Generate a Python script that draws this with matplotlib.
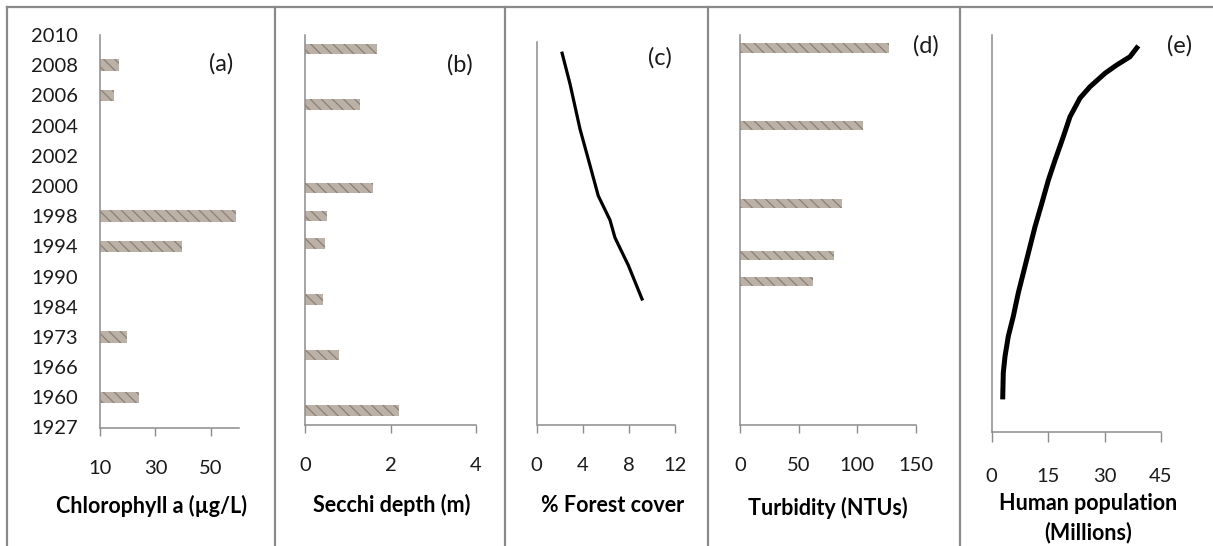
import matplotlib.pyplot as plt
from matplotlib.lines import Line2D

# --- data ---
# panel (a): year categories, top to bottom
years = ['2010', '2008', '2006', '2004', '2002', '2000', '1998',
         '1994', '1990', '1984', '1973', '1966', '1960', '1927']
chl_years = ['2008', '2006', '1998', '1994', '1973', '1960']
chl_values = [17.0, 14.9, 59.1, 39.7, 19.7, 24.2]

# panel (b): 14 unlabelled rows, top to bottom (None = no bar)
secchi = [1.68, None, 1.29, None, None, 1.58, 0.51, 0.47,
          None, 0.41, None, 0.80, None, 2.19]

# panel (c): forest cover against year
forest_year = [2009.0, 2001.3, 1990.5, 1982.5, 1974.6, 1968.8, 1964.6, 1958.0, 1949.6]
forest_cover = [2.17, 2.89, 3.76, 4.56, 5.34, 6.36, 6.79, 7.95, 9.19]

# panel (d): 15 unlabelled rows, top to bottom
turbidity = [127, None, None, 105, None, None, 87, None, 80, 62.5,
             None, None, None, None, None]

# panel (e): population (millions) against year
pop_year = [2008.8, 2006.3, 2004.4, 2002.5, 1999.4, 1996.8, 1992.5, 1987.9, 1982.5, 1977.9,
            1972.5, 1967.2, 1964.2, 1958.1, 1952.0, 1946.6, 1942.0, 1937.4, 1933.6, 1927.5]
pop_millions = [38.97, 36.76, 33.23, 30.12, 26.13, 23.47, 20.81, 19.03, 16.83, 15.05,
                13.29, 11.51, 10.63, 8.85, 7.07, 5.74, 4.41, 3.54, 3.08, 2.92]

# --- styling ---
plt.rcParams['font.family'] = ['Lato', 'DejaVu Sans']
plt.rcParams['hatch.linewidth'] = 0.9
W, H = 1213, 546
AXIS_GRAY = '#8c8c8c'
BAR_FACE = '#bcb1a6'
BAR_HATCH = '#8a8077'
TICK_FS = 14.5
LABEL_FS = 15.5
LETTER_FS = 17

fig = plt.figure(figsize=(W / 100, H / 100), dpi=100)
fig.patch.set_facecolor('white')


def make_axes(left, right, top, bottom):
    ax = fig.add_axes([left / W, 1 - bottom / H, (right - left) / W, (bottom - top) / H])
    for side in ['top', 'right']:
        ax.spines[side].set_visible(False)
    for side in ['left', 'bottom']:
        ax.spines[side].set_color(AXIS_GRAY)
        ax.spines[side].set_linewidth(1.1)
    ax.tick_params(axis='x', direction='out', length=5.5, width=1, color=AXIS_GRAY,
                   labelsize=TICK_FS, labelcolor='#1a1a1a', pad=18)
    ax.tick_params(axis='y', length=0, labelsize=TICK_FS, labelcolor='#1a1a1a')
    ax.set_facecolor('none')
    return ax


def hbars(ax, rows, values, height):
    for r, v in zip(rows, values):
        ax.barh(r, v, height=height, color=BAR_FACE, hatch='\\\\\\',
                edgecolor=BAR_HATCH, linewidth=0)


# (a) chlorophyll
ax_a = make_axes(100, 238.5, 35, 427.5)
ax_a.set_xlim(10, 60)
n = len(years)
ax_a.set_ylim(0, n - 1)
ypos = {y: n - 1 - i for i, y in enumerate(years)}
hbars(ax_a, [ypos[y] for y in chl_years], chl_values, 0.38)
ax_a.set_xticks([10, 30, 50])
ax_a.set_yticks([ypos[y] for y in years])
ax_a.set_yticklabels(years)
ax_a.tick_params(axis='y', pad=16)
ax_a.set_yticks([ypos['1998'], ypos['1927']], minor=True)
ax_a.tick_params(axis='y', which='minor', length=8, width=1, color=AXIS_GRAY, direction='out')

# (b) secchi depth
ax_b = make_axes(305, 476, 35, 424.5)
ax_b.set_xlim(0, 4)
ax_b.set_ylim(0, len(secchi))
rows = [len(secchi) - 0.5 - i for i, v in enumerate(secchi) if v is not None]
vals = [v for v in secchi if v is not None]
hbars(ax_b, rows, vals, 0.38)
ax_b.set_xticks([0, 2, 4])
ax_b.set_yticks([])

# (c) forest cover
ax_c = make_axes(536.7, 675, 42, 424.5)
ax_c.set_xlim(0, 12)
ax_c.set_ylim(1920, 2011.3)
ax_c.plot(forest_cover, forest_year, color='black', lw=2.3, solid_capstyle='butt')
ax_c.set_xticks([0, 4, 8, 12])
ax_c.set_yticks([])

# (d) turbidity
ax_d = make_axes(740, 916, 35, 424.5)
ax_d.set_xlim(0, 150)
ax_d.set_ylim(0, len(turbidity))
rows = [len(turbidity) - 0.5 - i for i, v in enumerate(turbidity) if v is not None]
vals = [v for v in turbidity if v is not None]
hbars(ax_d, rows, vals, 0.35)
ax_d.set_xticks([0, 50, 100, 150])
ax_d.set_yticks([])

# (e) human population
ax_e = make_axes(991.7, 1161, 35, 432)
ax_e.set_xlim(0, 45)
ax_e.set_ylim(1920, 2011.3)
ax_e.plot(pop_millions, pop_year, color='black', lw=3.6, solid_capstyle='butt',
          solid_joinstyle='round')
ax_e.set_xticks([0, 15, 30, 45])
ax_e.set_yticks([])
ax_e.tick_params(axis='x', length=7, pad=19)

# panel letters
for txt, x, y in [('(a)', 221, 64), ('(b)', 460, 65), ('(c)', 660, 58),
                  ('(d)', 926, 46), ('(e)', 1180, 46)]:
    fig.text(x / W, 1 - y / H, txt, fontsize=LETTER_FS, ha='center', va='center', color='#1a1a1a')

# axis titles
for txt, x, y in [('Chlorophyll a (µg/L)', 151, 506), ('Secchi depth (m)', 392, 505),
                  ('% Forest cover', 613, 505), ('Turbidity (NTUs)', 828, 508),
                  ('Human population', 1088, 503), ('(Millions)', 1088, 533)]:
    fig.text(x / W, 1 - y / H, txt, fontsize=LABEL_FS, fontweight='bold',
             ha='center', va='center', color='black')

# panel frames
frame_kw = dict(color='#8a8a8a', lw=1.6, transform=fig.transFigure)
fig.add_artist(Line2D([7 / W, 1], [1 - 7 / H, 1 - 7 / H], **frame_kw))
fig.add_artist(Line2D([7 / W, 7 / W], [0, 1 - 7 / H], **frame_kw))
for xd in [275, 505, 708, 960]:
    fig.add_artist(Line2D([xd / W, xd / W], [0, 1 - 7 / H], **frame_kw))

fig.savefig('out.png', dpi=100, facecolor='white')
